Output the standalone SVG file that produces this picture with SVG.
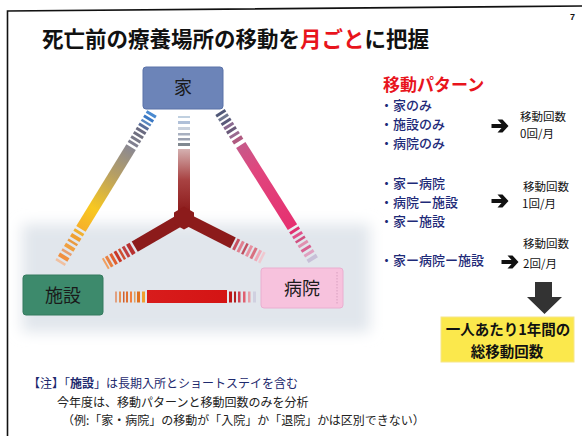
<svg xmlns="http://www.w3.org/2000/svg" width="582" height="436" viewBox="0 0 582 436">
<defs>
<style>
.jp{font-family:"Noto Sans CJK JP","Noto Sans",sans-serif;}
.item{font-size:13px;fill:#1e2a78;font-weight:500;}
.cnt{font-size:11.5px;fill:#111;}
.note{font-size:12px;fill:#222;}
.lbl{font-size:18px;fill:#1a1a1a;text-anchor:middle;}
</style>
<filter id="blur" x="-20%" y="-30%" width="140%" height="160%"><feGaussianBlur stdDeviation="7"/></filter>
<linearGradient id="gA" gradientUnits="userSpaceOnUse" x1="40" y1="0" x2="136" y2="0">
<stop offset="0" stop-color="#8a8892"/><stop offset="0.35" stop-color="#b8a062"/><stop offset="0.75" stop-color="#f8c820"/><stop offset="1" stop-color="#f6b02a"/>
</linearGradient>
<linearGradient id="gB" gradientUnits="userSpaceOnUse" x1="39" y1="0" x2="136" y2="0">
<stop offset="0" stop-color="#c65a8a"/><stop offset="0.3" stop-color="#e0467e"/><stop offset="1" stop-color="#e63070"/>
</linearGradient>
<linearGradient id="gC" gradientUnits="userSpaceOnUse" x1="0" y1="148" x2="0" y2="212">
<stop offset="0" stop-color="#d6b4b4"/><stop offset="0.5" stop-color="#a84242"/><stop offset="1" stop-color="#8c1b1b"/>
</linearGradient>
<linearGradient id="gBar" gradientUnits="userSpaceOnUse" x1="147" y1="0" x2="227" y2="0">
<stop offset="0" stop-color="#d81c1c"/><stop offset="1" stop-color="#d41414"/>
</linearGradient>
<path id="arr" d="M-8.5,-2 H1.5 L-2.5,-6.5 H2.5 L8.5,0 L2.5,6.5 H-2.5 L1.5,2 H-8.5 Z" fill="#111"/>
</defs>

<rect x="0" y="0" width="582" height="436" fill="#ffffff"/>
<!-- page frame -->
<polyline points="7.5,436 7.5,11 582,6" fill="none" stroke="#111" stroke-width="1.6"/>
<text x="570" y="20" font-family="Liberation Sans, sans-serif" font-size="9" font-weight="bold" fill="#111">7</text>

<!-- background band -->
<rect x="22" y="224" width="348" height="108" fill="#e1e6ec" filter="url(#blur)"/>

<!-- title -->
<text class="jp" x="42" y="47" font-size="21.5" font-weight="bold" fill="#111">死亡前の療養場所の移動を<tspan fill="#e8141c">月ごと</tspan>に把握</text>

<!-- connectors -->
<g id="connectors">
 <g id="conn-ie-shisetsu" transform="translate(152,113) rotate(121.5)">
  <rect x="0" y="-5.5" width="3" height="11" fill="#4a8ad0"/>
  <rect x="5" y="-5.5" width="3" height="11" fill="#3a78c4"/>
  <rect x="10" y="-5.5" width="2.5" height="11" fill="#5a88c0"/>
  <rect x="14.5" y="-5.5" width="3" height="11" fill="#5a6e9a"/>
  <rect x="19.5" y="-5.5" width="3" height="11" fill="#6a6a80"/>
  <rect x="24.5" y="-5.5" width="3" height="11" fill="#707080"/>
  <rect x="29.5" y="-5.5" width="3" height="11" fill="#7a7a88"/>
  <rect x="34.5" y="-5.5" width="3" height="11" fill="#808090"/>
  <rect x="40" y="-5.5" width="96" height="11" fill="url(#gA)"/>
  <rect x="138.5" y="-5.5" width="3" height="11" fill="#f0b030"/>
  <rect x="144" y="-5.5" width="4" height="11" fill="#f0a030"/>
  <rect x="150.5" y="-5.5" width="2.5" height="11" fill="#e89a40"/>
  <rect x="155.5" y="-5.5" width="4" height="11" fill="#f0a040"/>
  <rect x="162" y="-5.5" width="2.5" height="11" fill="#e8a070"/>
  <rect x="167" y="-5.5" width="4" height="11" fill="#f09040"/>
  <rect x="173.5" y="-5.5" width="2.5" height="11" fill="#f0c0a0"/>
 </g>
 <g id="conn-ie-byoin" transform="translate(220,112) rotate(57.8)">
  <rect x="0" y="-5.5" width="3" height="11" fill="#505878"/>
  <rect x="5" y="-5.5" width="3" height="11" fill="#707890"/>
  <rect x="10" y="-5.5" width="3" height="11" fill="#5a5a7a"/>
  <rect x="15" y="-5.5" width="3" height="11" fill="#8a6a90"/>
  <rect x="20" y="-5.5" width="3" height="11" fill="#6a5a7a"/>
  <rect x="25.5" y="-5.5" width="3" height="11" fill="#9a6a90"/>
  <rect x="31" y="-5.5" width="4" height="11" fill="#b05a80"/>
  <rect x="39" y="-5.5" width="97" height="11" fill="url(#gB)"/>
  <rect x="138.5" y="-5.5" width="3" height="11" fill="#e03070"/>
  <rect x="144" y="-5.5" width="3" height="11" fill="#e0508a"/>
  <rect x="149.5" y="-5.5" width="2.5" height="11" fill="#d05080"/>
  <rect x="154.5" y="-5.5" width="3" height="11" fill="#e090b0"/>
  <rect x="160" y="-5.5" width="3" height="11" fill="#d86090"/>
  <rect x="165.5" y="-5.5" width="3" height="11" fill="#e0a0c0"/>
  <rect x="171" y="-5.5" width="4" height="11" fill="#c8c0d8"/>
 </g>
 <g id="conn-ie-hub">
  <rect x="178" y="116" width="12" height="2" fill="#c0d0e0"/>
  <rect x="178" y="121" width="12" height="3" fill="#b0c0d8"/>
  <rect x="178" y="127" width="12" height="3" fill="#c8d0dc"/>
  <rect x="178" y="133" width="12" height="2.5" fill="#a8b0c0"/>
  <rect x="178" y="138" width="12" height="2.5" fill="#9aa0b0"/>
  <rect x="178" y="143" width="12" height="3" fill="#808890"/>
  <rect x="178" y="149" width="12" height="66" fill="url(#gC)"/>
 </g>
 <g id="conn-hub-shisetsu" transform="translate(184,218) rotate(149.8)">
  <rect x="0" y="-6" width="57" height="12" fill="#8c1b1b"/>
  <rect x="59.5" y="-6" width="4" height="12" fill="#b83030"/>
  <rect x="65.5" y="-6" width="3" height="12" fill="#c04040"/>
  <rect x="70.5" y="-6" width="2.5" height="12" fill="#d05030"/>
  <rect x="75" y="-6" width="3" height="12" fill="#c83828"/>
  <rect x="80" y="-6" width="3" height="12" fill="#e06030"/>
  <rect x="85" y="-6" width="3" height="12" fill="#e88040"/>
  <rect x="89.5" y="-6" width="2" height="12" fill="#f0a060"/>
 </g>
 <g id="conn-hub-byoin" transform="translate(184,218) rotate(26.9)">
  <rect x="0" y="-6" width="55" height="12" fill="#8c1b1b"/>
  <rect x="57" y="-6" width="3" height="12" fill="#c85060"/>
  <rect x="62" y="-6" width="3" height="12" fill="#e08090"/>
  <rect x="67" y="-6" width="2.5" height="12" fill="#c05060"/>
  <rect x="71.5" y="-6" width="3" height="12" fill="#e890a0"/>
  <rect x="76.5" y="-6" width="3" height="12" fill="#d87080"/>
  <rect x="81.5" y="-6" width="3" height="12" fill="#f0a8b8"/>
  <rect x="86" y="-6" width="2.5" height="12" fill="#f0c8d0"/>
 </g>
 <polygon id="hub" points="184,206.5 194,212.5 194,224 184,229.5 174,224 174,212.5" fill="#8c1b1b"/>
 <g id="conn-shisetsu-byoin">
  <rect x="115" y="291.5" width="2" height="11" fill="#e0a080"/>
  <rect x="119" y="291.5" width="2" height="11" fill="#e89050"/>
  <rect x="123" y="291.5" width="1.5" height="11" fill="#d06030"/>
  <rect x="126" y="291.5" width="2" height="11" fill="#e07030"/>
  <rect x="130" y="291.5" width="2" height="11" fill="#f08040"/>
  <rect x="134" y="291.5" width="1.5" height="11" fill="#e0a060"/>
  <rect x="137" y="291.5" width="3" height="11" fill="#e07020"/>
  <rect x="142" y="291.5" width="3" height="11" fill="#f0a030"/>
  <rect x="147" y="290" width="80" height="13" fill="url(#gBar)"/>
  <rect x="229" y="291.5" width="3" height="11" fill="#c01818"/>
  <rect x="234" y="291.5" width="2" height="11" fill="#b02020"/>
  <rect x="238" y="291.5" width="2.5" height="11" fill="#d04050"/>
  <rect x="243" y="291.5" width="2.5" height="11" fill="#e06070"/>
  <rect x="248" y="291.5" width="2.5" height="11" fill="#e8a0a8"/>
  <rect x="253" y="291.5" width="3" height="11" fill="#d0d0e0"/>
 </g>
</g>

<!-- nodes -->
<g id="node-ie">
 <rect x="143" y="67" width="80" height="42" rx="3" fill="#6c84b8" stroke="#5a72a8"/>
 <text class="jp lbl" x="183" y="94" font-size="17">家</text>
</g>
<g id="node-shisetsu">
 <rect x="23" y="275" width="80" height="40" rx="3" fill="#3d8a6c" stroke="#347a5e"/>
 <text class="jp lbl" x="63" y="301.5">施設</text>
</g>
<g id="node-byoin">
 <rect x="261" y="268" width="82" height="40" rx="3" fill="#f7c2dd" stroke="#eaaed0"/>
 <line x1="337" y1="272" x2="337" y2="304" stroke="#d8a0c0" stroke-dasharray="1.5,1.5"/>
 <text class="jp lbl" x="302" y="294.5">病院</text>
</g>

<!-- movement patterns -->
<g id="patterns">
 <text class="jp" x="383" y="91" font-size="17" font-weight="bold" fill="#e8141c">移動パターン</text>
 <text class="jp item" x="380" y="110">・家のみ</text>
 <text class="jp item" x="380" y="129">・施設のみ</text>
 <text class="jp item" x="380" y="148">・病院のみ</text>
 <use href="#arr" x="500" y="126"/>
 <text class="jp cnt" x="520" y="121">移動回数</text>
 <text class="jp cnt" x="520" y="138">0回/月</text>

 <text class="jp item" x="380" y="188">・家ー病院</text>
 <text class="jp item" x="380" y="207">・病院ー施設</text>
 <text class="jp item" x="380" y="226">・家ー施設</text>
 <use href="#arr" x="500" y="201"/>
 <text class="jp cnt" x="523" y="191">移動回数</text>
 <text class="jp cnt" x="522" y="208">1回/月</text>

 <text class="jp item" x="380" y="265">・家ー病院ー施設</text>
 <use href="#arr" x="510" y="262"/>
 <text class="jp cnt" x="523" y="248">移動回数</text>
 <text class="jp cnt" x="523" y="268">2回/月</text>
</g>

<!-- summary -->
<g id="summary">
 <polygon points="535,282 552,282 552,297 562,297 544.5,314 527,297 535,297" fill="#333"/>
 <rect x="441" y="317" width="133" height="45" fill="#fbe84c" stroke="#f6e68a"/>
 <text class="jp" x="508" y="335" font-size="14.5" font-weight="bold" fill="#111" text-anchor="middle">一人あたり1年間の</text>
 <text class="jp" x="507" y="357" font-size="14.5" font-weight="bold" fill="#111" text-anchor="middle">総移動回数</text>
</g>

<!-- notes -->
<g id="notes">
 <text class="jp note" x="28" y="388" style="fill:#1e2a6e">【注】「<tspan font-weight="bold">施設</tspan>」は長期入所とショートステイを含む</text>
 <text class="jp note" x="57" y="407">今年度は、移動パターンと移動回数のみを分析</text>
 <text class="jp note" x="62" y="425">（例:「家・病院」の移動が「入院」か「退院」かは区別できない）</text>
</g>
</svg>
